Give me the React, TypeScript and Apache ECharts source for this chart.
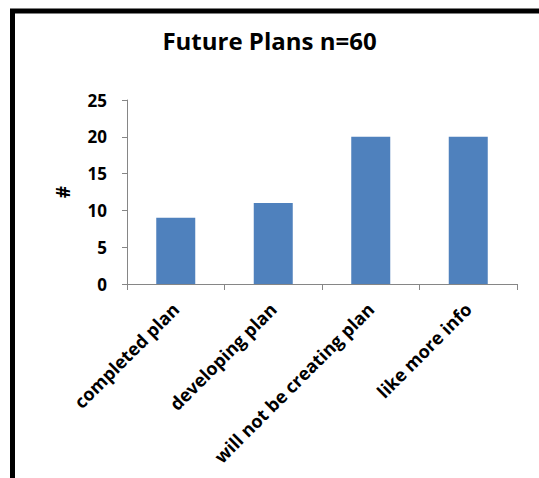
import React, { useEffect, useRef } from "react";
import * as echarts from "echarts";

const categories = ["completed plan", "developing plan", "will not be creating plan", "like more info"];
const values = [9, 11, 20, 20];
const title = "Future Plans n=60";
const yName = "#";

export default function App() {
  const ref = useRef<HTMLDivElement>(null);
  useEffect(() => {
    document.body.style.margin = "0";
    const chart = echarts.init(ref.current!, null, { renderer: "svg" });
    const font = "Open Sans";
    chart.setOption({
      animation: false,
      backgroundColor: "#ffffff",
      title: {
        text: title,
        left: "center",
        top: 23,
        textStyle: { fontFamily: font, fontWeight: "bold", fontSize: 24, color: "#000" },
      },
      grid: { left: 127, right: 22, top: 100, bottom: 194 },
      xAxis: {
        type: "category",
        data: categories,
        axisLine: { lineStyle: { color: "#868686", width: 1 } },
        axisTick: { show: true, length: 6, lineStyle: { color: "#868686" } },
        axisLabel: {
          rotate: 45,
          interval: 0,
          margin: 22,
          fontFamily: font,
          fontWeight: "bold",
          fontSize: 18,
          color: "#000",
        },
      },
      yAxis: {
        type: "value",
        min: 0,
        max: 25,
        interval: 5,
        name: yName,
        nameLocation: "middle",
        nameGap: 55,
        nameRotate: 90,
        nameTextStyle: { fontFamily: font, fontWeight: "bold", fontSize: 19, color: "#000" },
        axisLine: { show: true, lineStyle: { color: "#868686", width: 1 } },
        axisTick: { show: true, length: 5, lineStyle: { color: "#868686" } },
        splitLine: { show: false },
        axisLabel: { margin: 20, fontFamily: font, fontWeight: "bold", fontSize: 17, color: "#000" },
      },
      series: [
        {
          type: "bar",
          data: values,
          barWidth: "40%",
          itemStyle: { color: "#4F81BD" },
        },
      ],
      graphic: [
        {
          type: "rect",
          shape: { x: 12.5, y: 11, width: 700, height: 700 },
          style: { fill: "none", stroke: "#000", lineWidth: 5 },
          silent: true,
        },
      ],
    });
    return () => chart.dispose();
  }, []);
  return (
    <div style={{ position: "absolute", left: 0, top: 0 }}>
      <div ref={ref} style={{ width: 539, height: 478 }} />
    </div>
  );
}
